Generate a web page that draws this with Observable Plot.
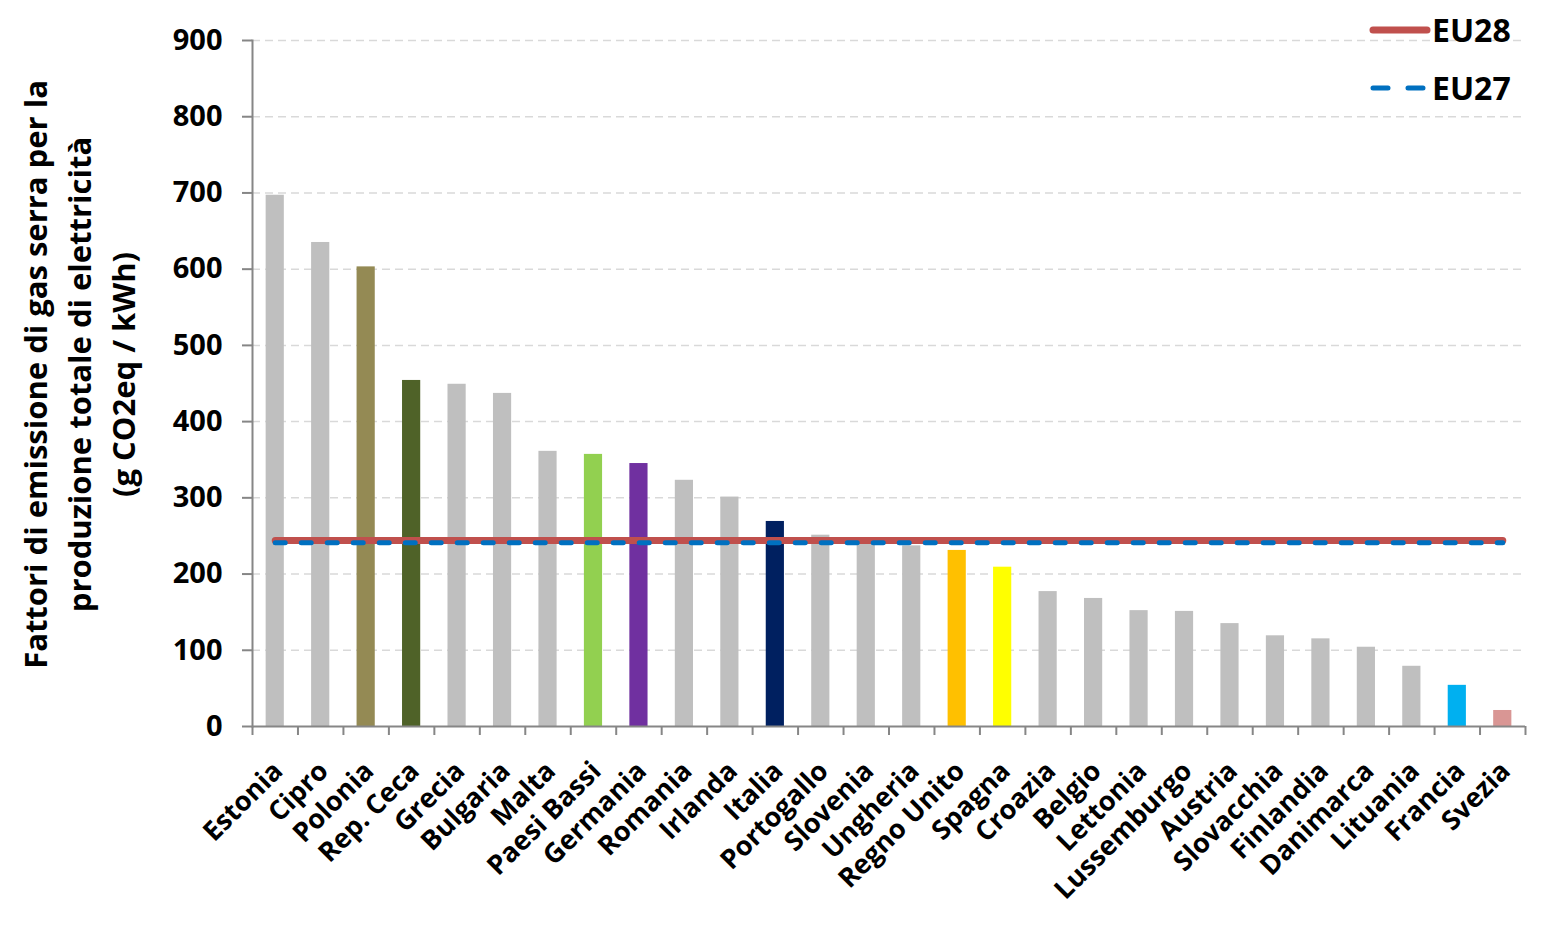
<!DOCTYPE html>
<html>
<head>
<meta charset="utf-8">
<script src="https://cdn.jsdelivr.net/npm/d3@7"></script>
<script src="https://cdn.jsdelivr.net/npm/@observablehq/plot@0.6"></script>
<style>
  html, body { margin: 0; padding: 0; background: #fff; font-family: "Open Sans", sans-serif; overflow: hidden; }
  #wrap { position: relative; width: 1559px; height: 948px; overflow: hidden; }
  #chart svg { display: block; max-width: none !important; }
  #legend { position: absolute; left: 1360px; top: 0; }
</style>
</head>
<body>
<div id="wrap">
  <div id="chart"></div>
  <svg id="legend" width="199" height="120"></svg>
</div>
<script>
const countries = ["Estonia","Cipro","Polonia","Rep. Ceca","Grecia","Bulgaria","Malta","Paesi Bassi","Germania","Romania","Irlanda","Italia","Portogallo","Slovenia","Ungheria","Regno Unito","Spagna","Croazia","Belgio","Lettonia","Lussemburgo","Austria","Slovacchia","Finlandia","Danimarca","Lituania","Francia","Svezia"];
const values = [697,635,603,454,449,437,361,357,345,323,301,269,251,243,237,231,209,177,168,152,151,135,119,115,104,79,54,21];
const eu28Value = 244;
const eu27Value = 241;
const yTicks = [0,100,200,300,400,500,600,700,800,900];
const yTitle = "Fattori di emissione di gas serra per la\nproduzione totale di elettricità\n(g CO2eq / kWh)";
const legendLabels = ["EU28","EU27"];

// styles
const defaultBar = "#BFBFBF";
const barColor = {
  "Polonia": "#948A54", "Rep. Ceca": "#4F6228", "Paesi Bassi": "#92D050",
  "Germania": "#7030A0", "Italia": "#002060", "Regno Unito": "#FFC000",
  "Spagna": "#FFFF00", "Francia": "#00B0F0", "Svezia": "#D99694"
};

const data = countries.map((c, i) => ({country: c, value: values[i]}));

const W = 1559, H = 948, ML = 252, MR = 34, MT = 40, MB = 222;
const step = (W - ML - MR) / countries.length;
const gray = "#868686";
const font = "'Open Sans', sans-serif";

const plot = Plot.plot({
  width: W, height: H,
  marginLeft: ML, marginRight: MR, marginTop: MT, marginBottom: MB,
  style: {fontFamily: font, fontWeight: "bold", background: "#fff", maxWidth: "none"},
  x: {domain: countries, paddingInner: 0.6, paddingOuter: 0.3, round: false, label: null},
  y: {domain: [0, 900], label: null},
  marks: [
    Plot.gridY(yTicks.filter(d => d > 0), {stroke: "#D9D9D9", strokeOpacity: 1, strokeWidth: 1.5, strokeDasharray: "8,5"}),
    Plot.barY(data, {x: "country", y: "value", fill: d => barColor[d.country] ?? defaultBar}),
    Plot.ruleY([0], {stroke: gray, strokeWidth: 2}),
    Plot.frame({anchor: "left", stroke: gray, strokeWidth: 2}),
    Plot.ruleX(countries, {x: d => d, y1: 0, y2: 0, dx: -step / 2, dy: 4.5, insetTop: -4.5, insetBottom: -4.5, stroke: gray, strokeWidth: 2}),
    Plot.ruleX(countries.slice(-1), {x: d => d, y1: 0, y2: 0, dx: step / 2, dy: 4.5, insetTop: -4.5, insetBottom: -4.5, stroke: gray, strokeWidth: 2}),
    Plot.lineY(countries, {x: d => d, y: () => eu28Value, stroke: "#C0504D", strokeWidth: 7, strokeLinecap: "round"}),
    Plot.lineY(countries, {x: d => d, y: () => eu27Value, stroke: "#0070C0", strokeWidth: 5, strokeDasharray: "10,16", strokeLinecap: "round"}),
    Plot.axisY({ticks: yTicks, tickSize: 10, tickPadding: 20, stroke: gray, strokeWidth: 2, fill: "black", fontSize: 29, fontWeight: "bold", label: null}),
    Plot.axisX({tickSize: 0, tickRotate: -45, tickPadding: 40, dx: 3, fill: "black", fontSize: 27, fontWeight: "bold", label: null}),
    Plot.text([yTitle], {text: d => d, frameAnchor: "left", rotate: -90, dx: -176, dy: -9, fontSize: 31, fontWeight: "bold", lineHeight: 1.42, textAnchor: "middle", lineAnchor: "middle", fill: "black"})
  ]
});
document.getElementById("chart").appendChild(plot);

// legend
const lg = d3.select("#legend");
const rows = [
  {label: legendLabels[0], y: 30, stroke: "#C0504D", sw: 7, dash: null},
  {label: legendLabels[1], y: 88, stroke: "#0070C0", sw: 5, dash: "15,20"}
];
rows.forEach(r => {
  lg.append("line").attr("x1", 13).attr("x2", 67).attr("y1", r.y).attr("y2", r.y)
    .attr("stroke", r.stroke).attr("stroke-width", r.sw).attr("stroke-linecap", "round")
    .attr("stroke-dasharray", r.dash);
  lg.append("text").attr("x", 72).attr("y", r.y).attr("dy", "0.36em")
    .attr("font-family", font).attr("font-weight", "bold").attr("font-size", 32)
    .attr("fill", "black").text(r.label);
});
</script>
</body>
</html>
